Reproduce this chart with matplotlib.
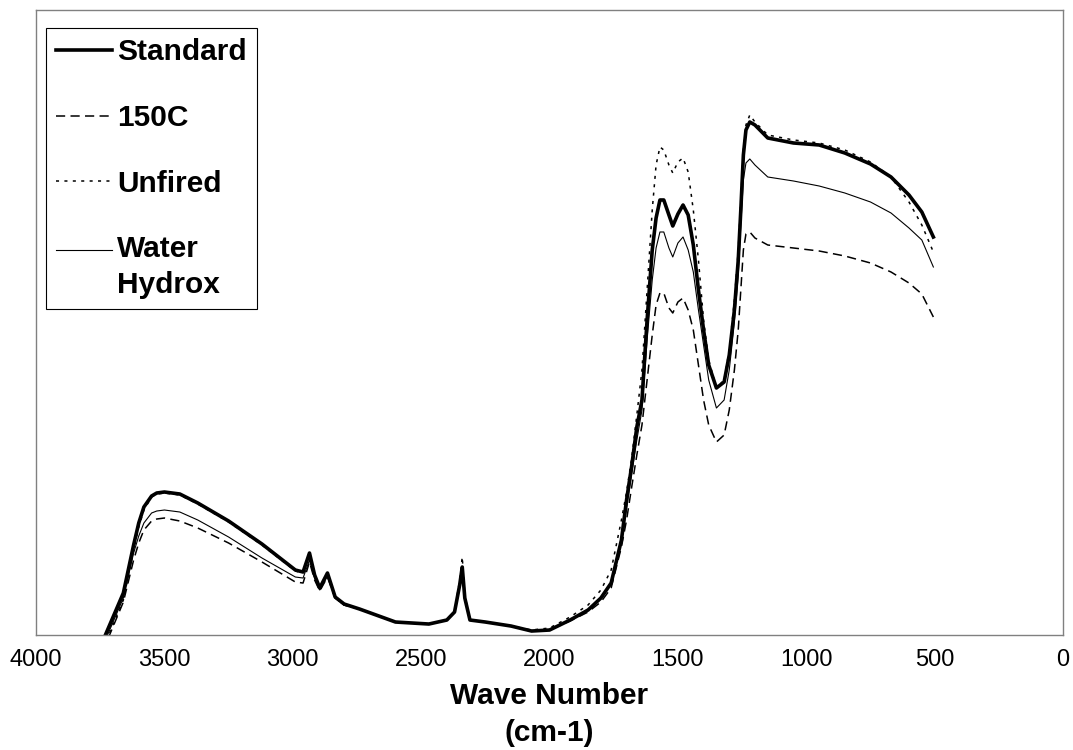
import matplotlib
matplotlib.use('Agg')
from matplotlib import pyplot as plt

plt.rcParams['font.family'] = ['Liberation Sans', 'DejaVu Sans']

# wave number grid (cm-1)
wave = [3760, 3730, 3660, 3620, 3600, 3580, 3550, 3530, 3500, 3440, 3370,
        3250, 3120, 2990, 2960, 2935, 2915, 2895, 2865, 2835, 2800, 2740,
        2600, 2470, 2400, 2370, 2350, 2340, 2330, 2310, 2250, 2150, 2070,
        2000, 1920, 1850, 1800, 1760, 1720, 1700, 1680, 1660, 1640, 1620,
        1600, 1585, 1570, 1555, 1535, 1520, 1500, 1480, 1460, 1440, 1420,
        1400, 1380, 1350, 1320, 1300, 1280, 1265, 1255, 1245, 1235, 1220,
        1200, 1150, 1050, 950, 850, 750, 670, 600, 550, 505]

# relative absorbance (arbitrary units)
standard = [-17, 0, 42, 90, 112, 128, 139, 142, 143, 141, 132,
            114, 91, 65, 63, 82, 60, 47, 62, 38, 31, 26,
            13, 11, 15, 23, 50, 68, 37, 15, 13, 9, 4,
            5, 15, 25, 37, 52, 95, 135, 169, 208, 235, 315,
            385, 417, 435, 435, 420, 409, 421, 430, 420, 390, 345,
            305, 270, 247, 253, 280, 325, 375, 425, 480, 505, 513,
            510, 497, 492, 490, 482, 471, 458, 440, 423, 398]

heated_150c = [-30, -10, 33, 75, 92, 105, 114, 116, 117, 114, 107,
               92, 73, 53, 52, 73, 55, 44, 58, 37, 30, 26,
               13, 11, 15, 23, 50, 68, 37, 15, 13, 9, 4,
               5, 14, 23, 33, 47, 88, 115, 148, 180, 210, 255,
               300, 330, 342, 342, 327, 322, 333, 337, 325, 305, 270,
               235, 210, 193, 200, 225, 265, 305, 345, 385, 401, 403,
               397, 390, 387, 384, 379, 372, 363, 352, 341, 318]

unfired = [-20, -8, 35, 85, 108, 125, 138, 141, 142, 140, 131,
           113, 90, 64, 62, 81, 59, 46, 61, 37, 30, 26,
           13, 11, 15, 24, 55, 78, 40, 15, 13, 9, 5,
           7, 18, 30, 45, 65, 115, 143, 177, 220, 265, 345,
           425, 470, 488, 485, 470, 462, 473, 477, 463, 425, 375,
           315, 275, 247, 255, 285, 335, 385, 435, 485, 510, 520,
           513, 500, 495, 492, 485, 473, 458, 433, 410, 383]

water_hydrox = [-25, -5, 37, 82, 99, 112, 122, 124, 125, 123, 115,
                98, 77, 58, 57, 75, 57, 45, 59, 37, 30, 26,
                13, 11, 15, 23, 50, 66, 37, 15, 13, 9, 4,
                5, 15, 25, 37, 53, 93, 127, 161, 195, 225, 295,
                355, 387, 403, 403, 387, 378, 392, 398, 385, 363, 325,
                290, 255, 227, 235, 265, 313, 360, 410, 455, 472, 476,
                470, 458, 454, 449, 442, 433, 422, 407, 395, 368]

ticks = [4000, 3500, 3000, 2500, 2000, 1500, 1000, 500, 0]

fig = plt.figure(figsize=(10.73, 7.5), dpi=100)
ax = fig.add_axes([0.0336, 0.1533, 0.9571, 0.8334])

ax.plot(wave, standard, color='black', lw=2.6, label='Standard')
ax.plot(wave, heated_150c, color='black', lw=1.1, dashes=(6, 3.5), label='150C')
ax.plot(wave, unfired, color='black', lw=1.1, dashes=(2, 3.5), label='Unfired')
ax.plot(wave, water_hydrox, color='black', lw=0.8, label='Water\nHydrox')

ax.set_xlim(4000, 0)
ax.set_ylim(0, 625)
ax.set_xticks(ticks)
ax.set_xticklabels([str(t) for t in ticks], fontsize=17)
ax.tick_params(axis='x', length=0, pad=10)
ax.set_yticks([])
for s in ax.spines.values():
    s.set_color('#808080')
    s.set_linewidth(1)

ax.set_xlabel('Wave Number\n(cm-1)', fontsize=21.5, fontweight='bold',
              labelpad=8, linespacing=1.4)

leg = ax.legend(loc='upper left', bbox_to_anchor=(0.0097, 0.9712),
                borderaxespad=0, fancybox=False, framealpha=1,
                edgecolor='black', handlelength=1.87, handletextpad=0.15,
                labelspacing=1.26, borderpad=0.35,
                prop={'size': 21.5, 'weight': 'bold'})
leg.get_frame().set_linewidth(0.8)
for t in leg.get_texts():
    t.set_linespacing(1.35)

# two-line label: put its handle next to the first line, as Excel does
wl = leg.get_lines()[3]
wl.set_ydata([v + 13 for v in wl.get_ydata()])

plt.savefig('out.png', dpi=100)
